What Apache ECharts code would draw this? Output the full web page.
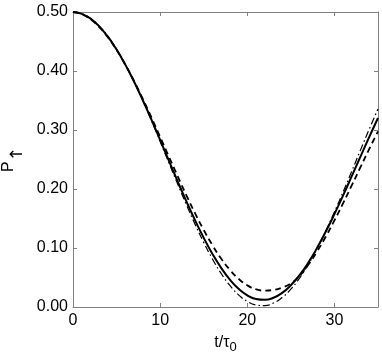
<!DOCTYPE html>
<html>
<head>
<meta charset="utf-8">
<script src="https://cdn.jsdelivr.net/npm/echarts@6/dist/echarts.min.js"></script>
<style>
  html, body { margin: 0; padding: 0; background: #fff; }
  #chart { width: 382px; height: 354px; }
</style>
</head>
<body>
<div id="chart"></div>
<script>
// time axis t/tau0
const tValues = [0, 1, 2, 3, 4, 5, 6, 7, 8, 9, 10, 11, 12, 13, 14, 15, 16, 17,
  18, 19, 20, 21, 22, 23, 24, 25, 26, 27, 28, 29, 30, 31, 32, 33, 34, 35];

// P_up, solid curve
const solidP = [0.5, 0.4969, 0.4887, 0.4757, 0.4581, 0.4363, 0.4108, 0.3821, 0.3508, 0.3176,
  0.2831, 0.2481, 0.2133, 0.1795, 0.1472, 0.1172, 0.0900, 0.0663, 0.0464, 0.0308,
  0.0198, 0.0135, 0.0121, 0.0156, 0.0239, 0.0369, 0.0541, 0.0752, 0.0999, 0.1275,
  0.1575, 0.1892, 0.2221, 0.2554, 0.2884, 0.3204];

// P_up, dashed curve
const dashedP = [0.5, 0.4963, 0.4877, 0.4746, 0.4571, 0.4357, 0.4109, 0.3831, 0.3530, 0.3212,
  0.2882, 0.2549, 0.2219, 0.1897, 0.1591, 0.1306, 0.1048, 0.0821, 0.0630, 0.0478,
  0.0368, 0.0301, 0.0278, 0.0290, 0.0330, 0.0400, 0.0529, 0.0716, 0.0939, 0.1191,
  0.1467, 0.1760, 0.2065, 0.2374, 0.2680, 0.2978];

// P_up, dash-dot curve
const dashDotP = [0.5, 0.4973, 0.4894, 0.4765, 0.4589, 0.4369, 0.4111, 0.3818, 0.3499, 0.3159,
  0.2805, 0.2445, 0.2087, 0.1738, 0.1404, 0.1094, 0.0814, 0.0569, 0.0365, 0.0206,
  0.0094, 0.0034, 0.0024, 0.0067, 0.0161, 0.0303, 0.0491, 0.0721, 0.0988, 0.1287,
  0.1611, 0.1953, 0.2306, 0.2663, 0.3016, 0.3358];

const xTicks = [0, 10, 20, 30];
const yTicks = [0, 0.1, 0.2, 0.3, 0.4, 0.5];

const chart = echarts.init(document.getElementById('chart'));

const axisGray = '#808080';
const font = 'Liberation Sans, Arial, sans-serif';

const pairs = (ys) => tValues.map((t, i) => [t, ys[i]]);

const baseX = {
  type: 'value',
  min: 0,
  max: 35,
  interval: 10,
  axisLine: { show: true, onZero: false, lineStyle: { color: axisGray, width: 1 } },
  axisTick: { show: true, inside: true, length: 4, lineStyle: { color: axisGray } },
  splitLine: { show: false }
};
const baseY = {
  type: 'value',
  min: yTicks[0],
  max: yTicks[yTicks.length - 1],
  interval: 0.1,
  axisLine: { show: true, onZero: false, lineStyle: { color: axisGray, width: 1 } },
  axisTick: { show: true, inside: true, length: 4, lineStyle: { color: axisGray } },
  splitLine: { show: false }
};

const option = {
  animation: false,
  backgroundColor: '#fff',
  grid: { left: 73, right: 4, top: 12, bottom: 47, containLabel: false, outerBoundsMode: 'none' },
  xAxis: [
    Object.assign({}, baseX, {
      position: 'bottom',
      axisLabel: {
        color: '#000', fontSize: 16, fontFamily: font, margin: 6,
        formatter: (v) => xTicks.includes(v) ? String(v) : ''
      },
      name: '{t|t/τ}{s|0}',
      nameLocation: 'middle',
      nameGap: 24,
      nameTextStyle: {
        rich: {
          t: { fontSize: 16, fontFamily: font, color: '#000' },
          s: { fontSize: 13, fontFamily: font, color: '#000', verticalAlign: 'bottom', padding: [10, 0, 0, 0] }
        }
      }
    }),
    Object.assign({}, baseX, { position: 'top', axisLabel: { show: false } })
  ],
  yAxis: [
    Object.assign({}, baseY, {
      position: 'left',
      axisLabel: {
        color: '#000', fontSize: 16, fontFamily: font, margin: 5,
        formatter: (v) => v.toFixed(2)
      },
      name: '{p|P}{s|↑}',
      nameLocation: 'middle',
      nameGap: 43,
      nameRotate: 90,
      nameTextStyle: {
        rich: {
          p: { fontSize: 16, fontFamily: font, color: '#000', verticalAlign: 'top', padding: [0, 0, 10, 0] },
          s: { fontSize: 17, fontFamily: 'DejaVu Sans, sans-serif', color: '#000', verticalAlign: 'top', padding: [8, 0, 0, 0] }
        }
      }
    }),
    Object.assign({}, baseY, { position: 'right', axisLabel: { show: false } })
  ],
  series: [
    {
      name: 'dash-dot',
      type: 'line',
      data: pairs(dashDotP),
      smooth: true,
      showSymbol: false,
      lineStyle: { color: '#000', width: 1.2, type: [7, 3, 1.5, 3] }
    },
    {
      name: 'dashed',
      type: 'line',
      data: pairs(dashedP),
      smooth: true,
      showSymbol: false,
      lineStyle: { color: '#000', width: 1.8, type: [6, 4] }
    },
    {
      name: 'solid',
      type: 'line',
      data: pairs(solidP),
      smooth: true,
      showSymbol: false,
      lineStyle: { color: '#000', width: 2 }
    }
  ]
};

chart.setOption(option);
</script>
</body>
</html>
